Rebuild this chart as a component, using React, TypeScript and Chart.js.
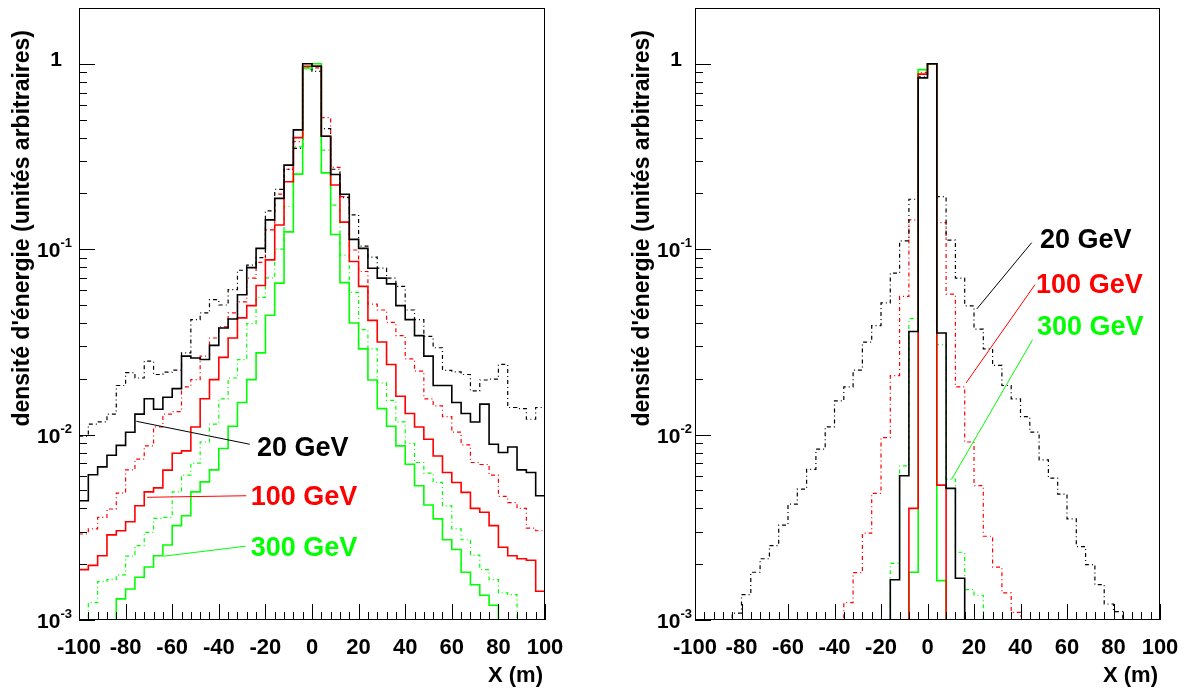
import React, { useEffect, useRef } from 'react';
import { Chart, registerables } from 'chart.js';

Chart.register(...registerables);

// ---------- data ----------
const binEdges = [
  -100, -96, -92, -88, -84, -80, -76, -72, -68, -64, -60, -56, -52, -48, -44, -40, -36,
  -32, -28, -24, -20, -16, -12, -8, -4, 0, 4, 8, 12, 16, 20, 24, 28, 32, 36, 40, 44, 48,
  52, 56, 60, 64, 68, 72, 76, 80, 84, 88, 92, 96, 100,
];

const xTickLabels = ['-100', '-80', '-60', '-40', '-20', '0', '20', '40', '60', '80', '100'];
const xTickValues = [-100, -80, -60, -40, -20, 0, 20, 40, 60, 80, 100];
const yTickValues = [0.001, 0.01, 0.1, 1];
const yTickBase = ['10', '10', '10', '1'];
const yTickExp = ['-3', '-2', '-1', ''];

const energyLabels = ['20 GeV', '100 GeV', '300 GeV'];
const yTitle = "densité d'énergie (unités arbitraires)";
const xTitle = 'X (m)';

// left panel
const leftBlackSolid = [
  0.0044, 0.00607, 0.0067, 0.00774, 0.00875, 0.0103, 0.0129, 0.0156, 0.0137, 0.0159,
  0.0177, 0.0265, 0.0259, 0.0254, 0.0303, 0.0376, 0.042, 0.0568, 0.0796, 0.101,
  0.144, 0.188, 0.284, 0.44, 1.0, 0.97, 0.407, 0.253, 0.198, 0.113,
  0.101, 0.079, 0.0698, 0.065, 0.0496, 0.0417, 0.0342, 0.0265, 0.0184, 0.0184,
  0.0149, 0.013, 0.0117, 0.0146, 0.00887, 0.008, 0.00857, 0.00645, 0.00625, 0.00468,
];
const leftBlackDotted = [
  0.0098, 0.0114, 0.0117, 0.0129, 0.0184, 0.0216, 0.0202, 0.0249, 0.0211, 0.0217,
  0.0223, 0.0276, 0.0417, 0.0453, 0.0534, 0.05, 0.0606, 0.077, 0.082, 0.09,
  0.161, 0.21, 0.27, 0.35, 0.95, 0.91, 0.447, 0.27, 0.19, 0.153,
  0.104, 0.0906, 0.079, 0.0698, 0.063, 0.047, 0.0417, 0.0339, 0.0294, 0.0222,
  0.0218, 0.0211, 0.0172, 0.0197, 0.0199, 0.0239, 0.014, 0.0138, 0.0121, 0.014,
];
const leftRedSolid = [
  0.00187, 0.00197, 0.00222, 0.00288, 0.00303, 0.00339, 0.00413, 0.00491, 0.00516, 0.00643,
  0.00794, 0.00817, 0.011, 0.0156, 0.0198, 0.0261, 0.0332, 0.0426, 0.0496, 0.0637,
  0.0876, 0.135, 0.231, 0.4, 0.97, 0.97, 0.407, 0.222, 0.14, 0.0858,
  0.063, 0.0413, 0.0316, 0.0239, 0.0161, 0.013, 0.011, 0.00944, 0.00767, 0.00625,
  0.00552, 0.00488, 0.004, 0.00381, 0.00323, 0.00247, 0.00222, 0.00214, 0.0021, 0.00143,
];
const leftRedDotted = [
  0.00291, 0.0031, 0.00358, 0.00397, 0.00483, 0.00645, 0.00737, 0.00869, 0.011, 0.0129,
  0.0133, 0.0181, 0.0198, 0.0265, 0.0332, 0.0381, 0.0453, 0.052, 0.0698, 0.085,
  0.127, 0.198, 0.27, 0.38, 0.96, 0.95, 0.513, 0.276, 0.192, 0.099,
  0.0758, 0.0505, 0.047, 0.0403, 0.0342, 0.0256, 0.022, 0.0156, 0.0143, 0.0125,
  0.0103, 0.0088, 0.00707, 0.0069, 0.00604, 0.00464, 0.0043, 0.004, 0.00313, 0.00303,
];
const leftGreenSolid = [
  0.001, 0.001, 0.001, 0.001, 0.0013, 0.00147, 0.0017, 0.00193, 0.00222, 0.00254,
  0.00323, 0.00365, 0.00491, 0.00556, 0.00645, 0.00841, 0.0111, 0.0149, 0.0198, 0.0276,
  0.044, 0.0656, 0.124, 0.254, 0.95, 1.0, 0.258, 0.12, 0.066, 0.04,
  0.029, 0.0197, 0.0138, 0.0111, 0.00869, 0.00692, 0.0053, 0.00417, 0.00351, 0.00271,
  0.0024, 0.00181, 0.00155, 0.00136, 0.0012, 0.001, 0.001, 0.001, 0.001, 0.001,
];
const leftGreenDotted = [
  0.001, 0.00124, 0.00161, 0.00165, 0.00175, 0.00221, 0.00252, 0.00297, 0.00353, 0.00358,
  0.00491, 0.00604, 0.00701, 0.00912, 0.0114, 0.0156, 0.0202, 0.0254, 0.0397, 0.055,
  0.07, 0.1, 0.17, 0.356, 0.93, 0.97, 0.342, 0.173, 0.093, 0.0585,
  0.0368, 0.029, 0.019, 0.0153, 0.0117, 0.00898, 0.00707, 0.0062, 0.00552, 0.00413,
  0.0031, 0.00271, 0.00224, 0.00187, 0.00165, 0.0014, 0.00137, 0.001, 0.001, 0.001,
];

// right panel (null = bin not drawn)
const N = null;
const rightBlackSolid = [
  N, N, N, N, N, N, N, N, N, N,
  N, N, N, N, N, N, N, N, N, N,
  0.001, 0.00165, 0.006, 0.036, 0.84, 1.0, 0.0353, 0.00513, 0.00168, 0.001,
  N, N, N, N, N, N, N, N, N, N,
  N, N, N, N, N, N, N, N, N, N,
];
const rightBlackDotted = [
  N, N, N, 0.001, 0.00109, 0.00137, 0.00181, 0.00214, 0.00252, 0.00325,
  0.00422, 0.00508, 0.0065, 0.00834, 0.011, 0.0152, 0.0181, 0.0223, 0.0315, 0.0387,
  0.0513, 0.0743, 0.111, 0.186, 0.85, 1.0, 0.192, 0.112, 0.0698, 0.0495,
  0.0371, 0.029, 0.0236, 0.0184, 0.0156, 0.0125, 0.0103, 0.0073, 0.00582, 0.00478,
  0.00351, 0.00249, 0.00199, 0.00155, 0.00122, 0.00111, 0.001, N, N, N,
];
const rightRedSolid = [
  N, N, N, N, N, N, N, N, N, N,
  N, N, N, N, N, N, N, N, N, N,
  N, 0.001, 0.001, 0.004, 0.88, 1.0, 0.00534, 0.001, 0.001, N,
  N, N, N, N, N, N, N, N, N, N,
  N, N, N, N, N, N, N, N, N, N,
];
const rightRedDotted = [
  N, N, N, N, N, N, N, N, N, N,
  N, N, N, N, N, 0.001, 0.00124, 0.0018, 0.00294, 0.00482,
  0.00964, 0.0208, 0.0556, 0.144, 0.9, 1.0, 0.139, 0.0573, 0.0181, 0.00912,
  0.0053, 0.00283, 0.00193, 0.0014, 0.0011, 0.001, N, N, N, N,
  N, N, N, N, N, N, N, N, N, N,
];
const rightGreenSolid = [
  N, N, N, N, N, N, N, N, N, N,
  N, N, N, N, N, N, N, N, N, N,
  N, N, 0.001, 0.00181, 0.93, 1.0, 0.00163, 0.001, N, N,
  N, N, N, N, N, N, N, N, N, N,
  N, N, N, N, N, N, N, N, N, N,
];
const rightGreenDotted = [
  N, N, N, N, N, N, N, N, N, N,
  N, N, N, N, N, N, N, N, N, N,
  0.001, 0.00202, 0.00678, 0.0422, 0.93, 1.0, 0.0306, 0.00575, 0.00232, 0.00146,
  0.00136, 0.001, N, N, N, N, N, N, N, N,
  N, N, N, N, N, N, N, N, N, N,
];

// ---------- styling ----------
const FONT = '"Liberation Sans", Arial, Helvetica, sans-serif';
const BLACK = '#000000';
const RED = '#ff0000';
const GREEN = '#00ff00';
const DOT_DASH = [4, 3, 1, 3];

type Ann = { text: string; color: string; tx: number; ty: number; x1: number; y1: number; x2: number; y2: number };

function histPoints(vals: (number | null)[]) {
  const pts: { x: number; y: number | null }[] = [];
  for (let k = 0; k < vals.length; k++) {
    const v = vals[k];
    if (v == null) {
      pts.push({ x: binEdges[k], y: null });
      continue;
    }
    pts.push({ x: binEdges[k], y: v });
    if (k === vals.length - 1 || vals[k + 1] == null) pts.push({ x: binEdges[k + 1], y: v });
  }
  return pts;
}

function makeDatasets(series: { vals: (number | null)[]; color: string; dotted: boolean }[]) {
  return series.map((s) => ({
    data: histPoints(s.vals),
    borderColor: s.color,
    borderWidth: s.dotted ? 1.2 : 1.6,
    borderDash: s.dotted ? DOT_DASH : [],
    stepped: true as const,
    pointRadius: 0,
    fill: false,
    spanGaps: false,
    tension: 0,
  }));
}

const rootFrame = {
  id: 'rootFrame',
  afterDatasetsDraw(chart: any, _args: any, o: any) {
    const { ctx, chartArea: a } = chart;
    const xs = chart.scales.x;
    const ys = chart.scales.y;
    ctx.save();
    ctx.strokeStyle = '#000';
    ctx.fillStyle = '#000';
    ctx.lineWidth = 1;
    ctx.setLineDash([]);
    const L = Math.round(a.left), T = Math.round(a.top), R = Math.round(a.right), B = Math.round(a.bottom);
    ctx.strokeRect(L + 0.5, T + 0.5, R - L - 1, B - T - 1);

    // x ticks (inward)
    ctx.beginPath();
    for (let v = -100; v <= 100; v += 4) {
      const px = Math.round(xs.getPixelForValue(v)) + 0.5;
      const major = xTickValues.includes(v);
      ctx.moveTo(px, B);
      ctx.lineTo(px, B - (major ? 16 : 8));
    }
    // y ticks (inward)
    for (const dec of yTickValues) {
      for (let m = 1; m <= 9; m++) {
        const v = dec * m;
        if (v > ys.max) continue;
        const py = Math.round(ys.getPixelForValue(v)) + 0.5;
        ctx.moveTo(L, py);
        ctx.lineTo(L + (m === 1 ? 16 : 8), py);
      }
    }
    ctx.stroke();

    // x labels
    ctx.font = `bold 22px ${FONT}`;
    ctx.textAlign = 'center';
    ctx.textBaseline = 'alphabetic';
    xTickValues.forEach((v, i) => {
      ctx.fillText(xTickLabels[i], xs.getPixelForValue(v), o.xLabelBaseline);
    });

    // y labels
    yTickValues.forEach((v, i) => {
      const py = ys.getPixelForValue(v);
      if (yTickExp[i]) {
        ctx.font = `bold 13px ${FONT}`;
        const we = ctx.measureText(yTickExp[i]).width;
        ctx.textAlign = 'left';
        const right = L - o.yExpGap;
        ctx.fillText(yTickExp[i], right - we, py - 2);
        ctx.font = `bold 21px ${FONT}`;
        ctx.textAlign = 'right';
        ctx.fillText(yTickBase[i], right - we, py + 8);
      } else {
        ctx.font = `bold 21px ${FONT}`;
        ctx.textAlign = 'right';
        ctx.fillText(yTickBase[i], L - o.yOneGap, py + 2);
      }
    });

    // axis titles
    ctx.font = `bold 22px ${FONT}`;
    ctx.textAlign = 'right';
    ctx.fillText(xTitle, R - 2, o.xTitleBaseline);

    ctx.save();
    ctx.translate(o.yTitleX, o.yTitleEnd);
    ctx.rotate(-Math.PI / 2);
    ctx.font = `bold 23px ${FONT}`;
    ctx.textAlign = 'right';
    ctx.fillText(yTitle, 0, 0);
    ctx.restore();

    // annotations
    (o.annotations as Ann[]).forEach((an) => {
      ctx.strokeStyle = an.color;
      ctx.lineWidth = 1;
      ctx.beginPath();
      ctx.moveTo(xs.getPixelForValue(an.x1), ys.getPixelForValue(an.y1));
      ctx.lineTo(xs.getPixelForValue(an.x2), ys.getPixelForValue(an.y2));
      ctx.stroke();
      ctx.fillStyle = an.color;
      ctx.font = `bold 27px ${FONT}`;
      ctx.textAlign = 'left';
      ctx.fillText(an.text, xs.getPixelForValue(an.tx), ys.getPixelForValue(an.ty));
    });
    ctx.restore();
  },
};

const colors = [BLACK, RED, GREEN];

// dataset index 0 is drawn on top
const leftCfg = {
  padding: { left: 79, top: 8, right: 641, bottom: 71 },
  series: [
    { vals: leftBlackSolid, color: BLACK, dotted: false },
    { vals: leftRedSolid, color: RED, dotted: false },
    { vals: leftGreenSolid, color: GREEN, dotted: false },
    { vals: leftBlackDotted, color: BLACK, dotted: true },
    { vals: leftRedDotted, color: RED, dotted: true },
    { vals: leftGreenDotted, color: GREEN, dotted: true },
  ],
  frame: {
    xLabelBaseline: 654,
    xTitleBaseline: 682,
    yExpGap: 7,
    yOneGap: 17,
    yTitleX: 29,
    yTitleEnd: 30,
    annotations: [
      { text: energyLabels[0], color: colors[0], tx: -23.6, ty: 0.00764, x1: -75.4, y1: 0.0118, x2: -26.7, y2: 0.00887 },
      { text: energyLabels[1], color: colors[1], tx: -26.3, ty: 0.00417, x1: -70.8, y1: 0.00459, x2: -28.2, y2: 0.00468 },
      { text: energyLabels[2], color: colors[2], tx: -26.3, ty: 0.00222, x1: -63.5, y1: 0.00221, x2: -28.5, y2: 0.0025 },
    ],
  },
};

const rightCfg = {
  padding: { left: 695, top: 8, right: 26, bottom: 71 },
  series: [
    { vals: rightBlackSolid, color: BLACK, dotted: false },
    { vals: rightRedSolid, color: RED, dotted: false },
    { vals: rightGreenSolid, color: GREEN, dotted: false },
    { vals: rightBlackDotted, color: BLACK, dotted: true },
    { vals: rightRedDotted, color: RED, dotted: true },
    { vals: rightGreenDotted, color: GREEN, dotted: true },
  ],
  frame: {
    xLabelBaseline: 654,
    xTitleBaseline: 682,
    yExpGap: 3,
    yOneGap: 13,
    yTitleX: 649,
    yTitleEnd: 30,
    annotations: [
      { text: energyLabels[0], color: colors[0], tx: 48.4, ty: 0.1016, x1: 44.8, y1: 0.1085, x2: 21.2, y2: 0.0476 },
      { text: energyLabels[1], color: colors[1], tx: 46.7, ty: 0.0582, x1: 46.2, y1: 0.0643, x2: 16.6, y2: 0.019 },
      { text: energyLabels[2], color: colors[2], tx: 47.1, ty: 0.0346, x1: 45.2, y1: 0.0325, x2: 10.4, y2: 0.00575 },
    ],
  },
};

function Panel({ cfg }: { cfg: any }) {
  const ref = useRef<HTMLCanvasElement>(null);
  useEffect(() => {
    const chart = new Chart(ref.current as HTMLCanvasElement, {
      type: 'line',
      data: { datasets: makeDatasets(cfg.series) as any },
      options: {
        animation: false,
        responsive: false,
        devicePixelRatio: 1,
        layout: { padding: cfg.padding },
        events: [],
        scales: {
          x: { type: 'linear', min: -100, max: 100, display: false },
          y: { type: 'logarithmic', min: 0.001, max: 2, display: false },
        },
        plugins: {
          legend: { display: false },
          tooltip: { enabled: false },
          rootFrame: cfg.frame,
        } as any,
      },
      plugins: [rootFrame],
    });
    return () => chart.destroy();
  }, [cfg]);
  return (
    <canvas
      ref={ref}
      width={1186}
      height={691}
      style={{ position: 'absolute', left: 0, top: 0, width: 1186, height: 691 }}
    />
  );
}

export default function App() {
  return (
    <div style={{ position: 'absolute', left: 0, top: 0, width: 1186, height: 691, background: '#ffffff' }}>
      <Panel cfg={leftCfg} />
      <Panel cfg={rightCfg} />
    </div>
  );
}
